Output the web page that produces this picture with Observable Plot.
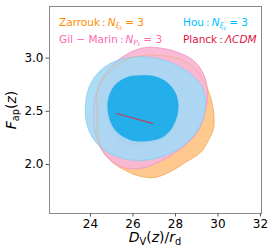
<!DOCTYPE html>
<html><head><meta charset="utf-8">
<script src="https://cdn.jsdelivr.net/npm/d3@7"></script>
<script src="https://cdn.jsdelivr.net/npm/@observablehq/plot@0.6"></script>
<style>
body{margin:0;background:#fff;font-family:"DejaVu Sans",sans-serif;}
#wrap{position:relative;width:273px;height:248px;overflow:hidden;}
.lab{position:absolute;white-space:nowrap;font-size:10.5px;line-height:12px;}
.ax{position:absolute;white-space:nowrap;font-size:14px;line-height:12px;color:#000;}
sub{font-size:70%;vertical-align:baseline;position:relative;top:0.3em;line-height:0;}
i{font-style:italic;}
</style></head><body><div id="wrap"></div><script>
// Tick values
const xTicks = [24, 26, 28, 30, 32];
const yTicks = [2.0, 2.5, 3.0];

// Zarrouk (N_xi = 3) 2-sigma and 1-sigma contours [D_V/r_d, F_ap]
const zarroukOuter = [[24.33,2.481],[24.28,2.650],[24.56,2.791],[25.04,2.903],[25.69,2.988],[26.49,3.025],[27.29,3.025],[28.14,2.997],[28.80,2.922],[29.32,2.791],[29.65,2.631],[29.79,2.490],[29.79,2.340],[29.55,2.227],[29.18,2.115],[28.47,2.021],[27.86,1.945],[27.06,1.880],[26.35,1.889],[25.65,1.945],[25.04,2.021],[24.56,2.133],[24.33,2.293]];
const zarroukInner = [[24.94,2.509],[25.08,2.678],[25.51,2.791],[26.21,2.838],[27.06,2.828],[27.76,2.753],[28.19,2.640],[28.28,2.509],[28.14,2.368],[27.76,2.255],[27.15,2.180],[26.45,2.161],[25.74,2.199],[25.22,2.293]];

// Gil-Marin (N_P = 3)
const gilOuter = [[24.14,2.462],[24.24,2.650],[24.61,2.828],[25.18,2.960],[25.88,3.054],[26.59,3.100],[27.39,3.091],[28.24,3.044],[28.94,2.960],[29.36,2.828],[29.51,2.678],[29.41,2.509],[29.18,2.359],[28.71,2.227],[28.00,2.115],[27.20,2.021],[26.35,1.964],[25.51,1.974],[24.85,2.058],[24.42,2.180],[24.19,2.321]];
const gilInner = [[24.75,2.509],[24.85,2.678],[25.27,2.791],[26.02,2.847],[26.92,2.838],[27.62,2.772],[28.05,2.650],[28.14,2.509],[28.00,2.377],[27.62,2.274],[26.96,2.199],[26.21,2.171],[25.51,2.208],[24.99,2.321]];

// Hou (N_xi = 3)
const houOuter = [[23.76,2.537],[23.91,2.715],[24.33,2.856],[25.04,2.960],[25.88,3.007],[26.82,3.007],[27.76,2.960],[28.61,2.866],[29.18,2.753],[29.41,2.622],[29.36,2.462],[29.04,2.321],[28.38,2.180],[27.53,2.086],[26.49,2.039],[25.51,2.058],[24.66,2.133],[24.09,2.255],[23.81,2.396]];
const houInner = [[24.80,2.528],[24.89,2.659],[25.22,2.762],[25.69,2.819],[26.35,2.838],[27.06,2.828],[27.62,2.772],[28.00,2.678],[28.14,2.565],[28.05,2.434],[27.76,2.321],[27.29,2.246],[26.64,2.218],[25.93,2.227],[25.36,2.284],[24.99,2.377]];

// Planck LCDM degeneracy segment
const planck = [[25.22,2.480],[26.92,2.387]];

const X = d => d[0], Y = d => d[1];
const C = "catmull-rom-closed";

const plot = Plot.plot({
  width: 273, height: 248,
  marginLeft: 49, marginRight: 12, marginTop: 6, marginBottom: 35,
  x: {domain: [22.07, 32.05]},
  y: {domain: [1.54, 3.485]},
  style: {fontFamily: "DejaVu Sans", fontSize: "12px", color: "#000", background: "white"},
  marks: [
    Plot.line(zarroukOuter, {x: X, y: Y, curve: C, fill: "#fdc98e", stroke: "#fbb868", strokeWidth: 0.8}),
    Plot.line(zarroukInner, {x: X, y: Y, curve: C, fill: "#fbb060", stroke: "none"}),
    Plot.line(gilOuter, {x: X, y: Y, curve: C, fill: "#f9b7d6", fillOpacity: 0.95, stroke: "#f5a0c8", strokeWidth: 0.8}),
    Plot.line(gilInner, {x: X, y: Y, curve: C, fill: "#f190bf", stroke: "none"}),
    Plot.line(houOuter, {x: X, y: Y, curve: C, fill: "#a3d9f4", fillOpacity: 0.9, stroke: "#86cdf0", strokeWidth: 0.8}),
    Plot.line(zarroukOuter, {x: X, y: Y, curve: C, fill: "none", stroke: "#f3a860", strokeWidth: 0.8, strokeOpacity: 0.6}),
    Plot.line(gilOuter, {x: X, y: Y, curve: C, fill: "none", stroke: "#ee98c4", strokeWidth: 0.8, strokeOpacity: 0.6}),
    Plot.line(houInner, {x: X, y: Y, curve: C, fill: "#24aeea", stroke: "none"}),
    Plot.line(planck, {x: X, y: Y, stroke: "#b8405f", strokeWidth: 1.2}),
    Plot.frame({stroke: "#8a8a8a", strokeWidth: 1}),
    Plot.axisX({ticks: xTicks, tickSize: 3.5, tickPadding: 2.5, label: null, tickFormat: d => String(d), stroke: "#555"}),
    Plot.axisY({ticks: yTicks, tickSize: 3.5, tickPadding: 2.5, label: null, tickFormat: d3.format(".1f"), stroke: "#555"})
  ]
});

const wrap = document.getElementById("wrap");
wrap.appendChild(plot);

const labels = [
  {html: 'Zarrouk\u2009:\u2009<i>N</i><sub><i>ξ</i><sub>ℓ</sub></sub> = 3', color: "#ff8c00", left: 59, top: 16},
  {html: 'Gil − Marin\u2009:\u2009<i>N</i><sub><i>P</i><sub>ℓ</sub></sub> = 3', color: "#ff69b4", left: 59, top: 32.5},
  {html: 'Hou\u2009:\u2009<i>N</i><sub><i>ξ</i><sub>ℓ</sub></sub> = 3', color: "#00bfff", left: 183, top: 16},
  {html: 'Planck\u2009:\u2009<i>ΛCDM</i>', color: "#dc143c", left: 183, top: 32.5}
];
for (const l of labels) {
  const d = document.createElement("div");
  d.className = "lab";
  d.innerHTML = l.html;
  d.style.color = l.color;
  d.style.left = l.left + "px";
  d.style.top = l.top + "px";
  wrap.appendChild(d);
}
const xl = document.createElement("div");
xl.className = "ax";
xl.innerHTML = '<i>D</i><sub>V</sub>(<i>z</i>)/<i>r</i><sub>d</sub>';
xl.style.left = "155px"; xl.style.top = "231px"; xl.style.transform = "translateX(-50%)";
wrap.appendChild(xl);
const yl = document.createElement("div");
yl.className = "ax";
yl.innerHTML = '<i>F</i><sub>ap</sub>(<i>z</i>)';
yl.style.left = "11px"; yl.style.top = "110px"; yl.style.transform = "translate(-50%,-50%) rotate(-90deg)";
wrap.appendChild(yl);
</script></body></html>
